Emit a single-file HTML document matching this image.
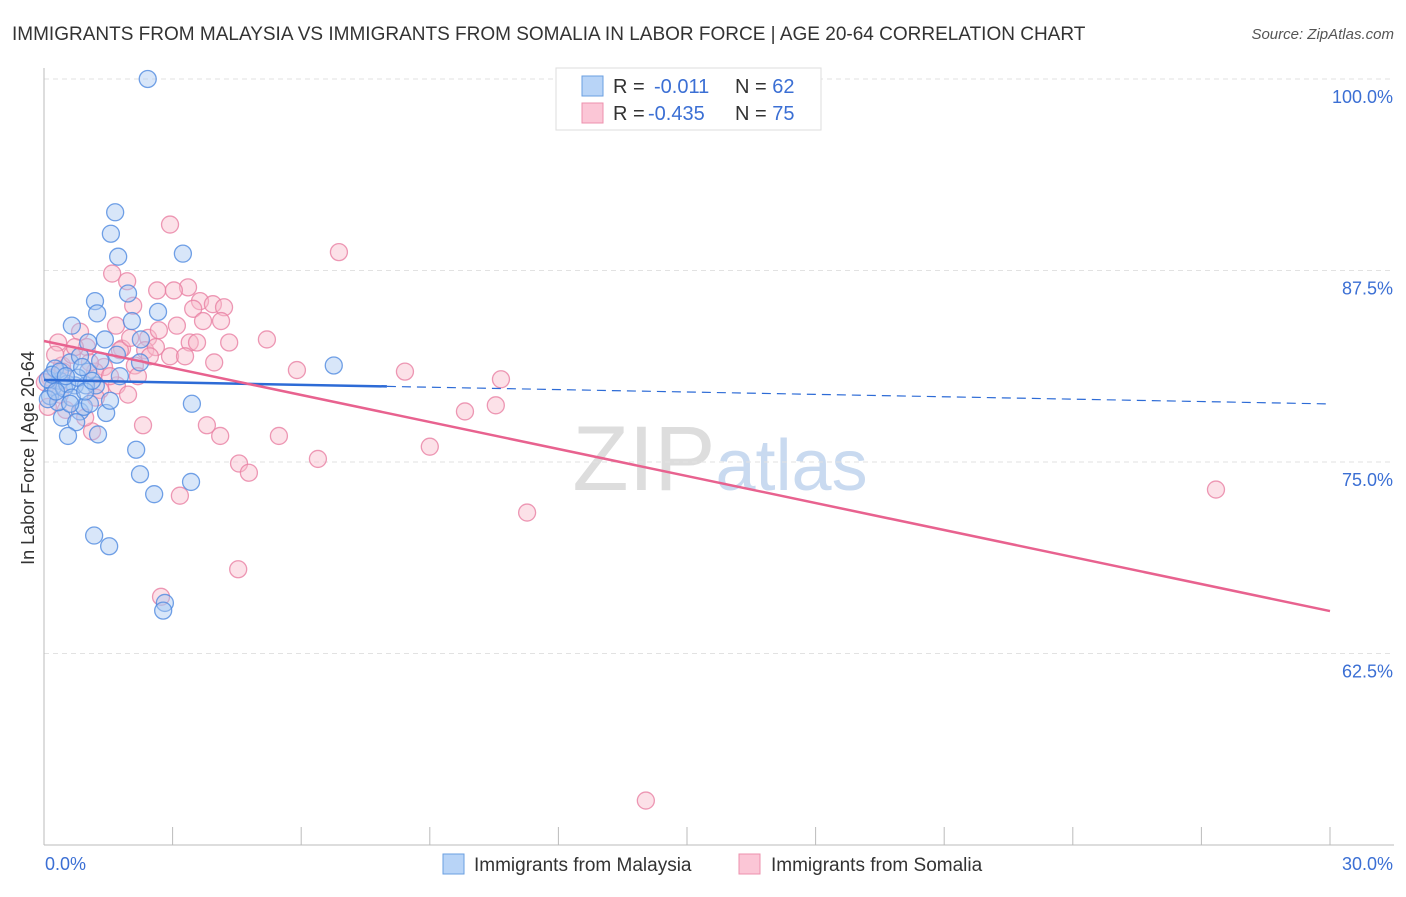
<!DOCTYPE html>
<html><head><meta charset="utf-8"><style>
body{margin:0;background:#fff;font-family:"Liberation Sans",sans-serif;}
svg text{font-family:"Liberation Sans",sans-serif;}
</style></head><body>
<svg id="c" width="1406" height="892" xmlns="http://www.w3.org/2000/svg">
<text x="12" y="40" font-size="19" fill="#333">IMMIGRANTS FROM MALAYSIA VS IMMIGRANTS FROM SOMALIA IN LABOR FORCE | AGE 20-64 CORRELATION CHART</text>
<text x="1394" y="39" font-size="15" fill="#555" font-style="italic" text-anchor="end">Source: ZipAtlas.com</text>
<text x="720" y="490" font-size="92" fill="#ddd" text-anchor="middle" font-family="Liberation Serif">ZIP<tspan fill="#c9daf0" font-family="Liberation Sans" font-size="72">atlas</tspan></text>
<text transform="translate(34,458) rotate(-90)" font-size="18" fill="#333" text-anchor="middle">In Labor Force | Age 20-64</text>
<g id="grid"></g><g id="pts"></g><g id="lines"></g>
<g>
<rect x="556" y="68" width="265" height="62" fill="#fff" stroke="#ddd"/>
<rect x="582" y="76" width="21" height="20" fill="#b8d4f7" stroke="#6a9fe0"/>
<rect x="582" y="103" width="21" height="20" fill="#fbc6d6" stroke="#ec90ad"/>
<text x="613" y="93" font-size="20" fill="#333">R = <tspan x="654" fill="#3b6fd4">-0.011</tspan><tspan x="735" fill="#333">N = </tspan><tspan fill="#3b6fd4">62</tspan></text>
<text x="613" y="120" font-size="20" fill="#333">R = <tspan x="648" fill="#3b6fd4">-0.435</tspan><tspan x="735" fill="#333">N = </tspan><tspan fill="#3b6fd4">75</tspan></text>
</g>
<g>
<rect x="443" y="854" width="21" height="20" fill="#b8d4f7" stroke="#6a9fe0"/>
<text x="474" y="871" font-size="19" fill="#333">Immigrants from Malaysia</text>
<rect x="739" y="854" width="21" height="20" fill="#fbc6d6" stroke="#ec90ad"/>
<text x="771" y="871" font-size="19" fill="#333">Immigrants from Somalia</text>
</g>
</svg>
<script>
const yTicks=[100,87.5,75,62.5];
const yTickLabels=["100.0%","87.5%","75.0%","62.5%"];
const xTickLabels=["0.0%","30.0%"];
const malaysiaX=[2.42,1.66,1.56,1.73,3.24,1.19,1.96,1.24,2.66,0.65,2.05,1.42,1.03,1.70,2.26,2.24,6.76,3.45,1.45,0.84,0.93,1.07,0.42,0.75,0.56,1.26,2.15,2.24,2.57,3.43,1.17,1.52,2.82,2.78,1.77,1.21,0.72,0.37,0.21,0.14,0.33,0.61,0.84,0.09,0.26,0.47,0.98,0.54,0.19,0.37,0.65,1.03,0.79,1.31,0.96,0.09,0.28,0.51,1.12,0.89,1.54,0.61];
const malaysiaY=[100,91.3,89.9,88.4,88.6,85.5,86.0,84.7,84.8,83.9,84.2,83.0,82.8,82.0,83.0,81.5,81.3,78.8,78.2,78.3,78.6,78.8,77.9,77.6,76.7,76.8,75.8,74.2,72.9,73.7,70.2,69.5,65.8,65.3,80.6,80.0,80.0,80.3,79.9,79.3,78.9,81.5,81.9,80.4,81.1,79.8,80.0,80.1,80.7,80.9,79.2,80.9,80.5,81.6,79.6,79.1,79.6,80.6,80.3,81.2,79.0,78.8];
const somaliaX=[2.94,6.88,1.59,1.94,2.64,3.36,2.08,3.03,3.64,3.94,4.2,3.48,3.71,4.13,1.68,3.10,2.43,2.68,2.36,2.61,3.40,3.57,4.32,5.20,0.84,1.82,1.00,2.94,3.97,5.90,8.42,10.66,1.40,2.12,2.19,1.70,1.96,9.82,10.54,2.31,1.12,3.80,4.11,5.48,9.00,4.55,4.78,6.39,3.17,11.27,27.34,4.53,2.73,14.04,0.33,0.42,0.65,0.14,0.09,0.37,1.19,0.51,1.54,1.77,2.47,3.29,0.72,0.26,1.31,0.96,1.21,0.02,2.01,1.07,0.44];
const somaliaY=[90.5,88.7,87.3,86.8,86.2,86.4,85.2,86.2,85.5,85.3,85.1,85.0,84.2,84.2,83.9,83.9,83.1,83.6,82.3,82.5,82.8,82.8,82.8,83.0,83.5,82.4,82.5,81.9,81.5,81.0,80.9,80.4,81.2,81.3,80.6,80.0,79.4,78.3,78.7,77.4,77.0,77.4,76.7,76.7,76.0,74.9,74.3,75.2,72.8,71.7,73.2,68.0,66.2,52.9,82.8,81.3,82.0,80.5,78.6,79.4,80.9,78.4,80.6,82.3,81.9,81.9,82.5,82.0,79.7,77.9,79.2,80.2,83.1,81.5,80.9];
const trendIntercept=[80.35,82.9];
const trendSlope=[-0.052,-0.5877];
const X0=44,X1=1330,Y0=79,PXY=191.5/12.5;
const xs=v=>X0+v*(X1-X0)/30;
const ys=v=>Y0+(100-v)*PXY;
const NS="http://www.w3.org/2000/svg";
function mk(tag,attrs,parent){const e=document.createElementNS(NS,tag);for(const k in attrs)e.setAttribute(k,attrs[k]);parent.appendChild(e);return e;}
const grid=document.getElementById('grid');
yTicks.forEach((t,i)=>{
 const l=mk('line',{x1:X0,x2:1394,y1:ys(t),y2:ys(t),stroke:'#e2e2e2','stroke-dasharray':'5,4'},grid);
 
 
 const tx=mk('text',{x:1393,y:ys(t)+24,'font-size':18,fill:'#3b6fd4','text-anchor':'end'},grid);
 tx.textContent=yTickLabels[i];
 
 
});
const ax=mk('line',{x1:X0,x2:X0,y1:68,y2:845,stroke:'#bbb'},grid);


const bx=mk('line',{x1:X0,x2:1394,y1:845,y2:845,stroke:'#bbb'},grid);


for(let i=0;i<=10;i++){const x=X0+i*(X1-X0)/10;
 const tk=mk('line',{x1:x,x2:x,y1:827,y2:845,stroke:'#bbb'},grid);
 
 }
[[0,'start',45],[30,'end',1393]].forEach((d,i)=>{
 const t=mk('text',{x:d[2],y:870,'font-size':18,fill:'#3b6fd4','text-anchor':d[1]},grid);
 t.textContent=xTickLabels[i];
 
 });
const pts=document.getElementById('pts');
function drawPts(X,Y,fill,stroke,name){X.forEach((v,i)=>{
 const c=mk('circle',{cx:xs(v),cy:ys(Y[i]),r:8.5,fill:fill,'fill-opacity':0.45,stroke:stroke,'stroke-width':1.3,'stroke-opacity':0.8},pts);
 
 });}
drawPts(somaliaX,somaliaY,'#f9bccd','#e980a2','somalia-point');
drawPts(malaysiaX,malaysiaY,'#a8c8f2','#4f8ae0','malaysia-point');
const lines=document.getElementById('lines');
const f=(k,x)=>trendIntercept[k]+trendSlope[k]*x;
const b1=mk('line',{x1:xs(0),y1:ys(f(0,0)),x2:xs(8.0),y2:ys(f(0,8.0)),stroke:'#2d6bd6','stroke-width':2.5},lines);


const b2=mk('line',{x1:xs(8.0),y1:ys(f(0,8.0)),x2:xs(30),y2:ys(f(0,30)),stroke:'#2d6bd6','stroke-width':1.2,'stroke-dasharray':'9,6'},lines);


const p1=mk('line',{x1:xs(0),y1:ys(f(1,0)),x2:xs(30),y2:ys(f(1,30)),stroke:'#e8628f','stroke-width':2.5},lines);


</script>
</body></html>
